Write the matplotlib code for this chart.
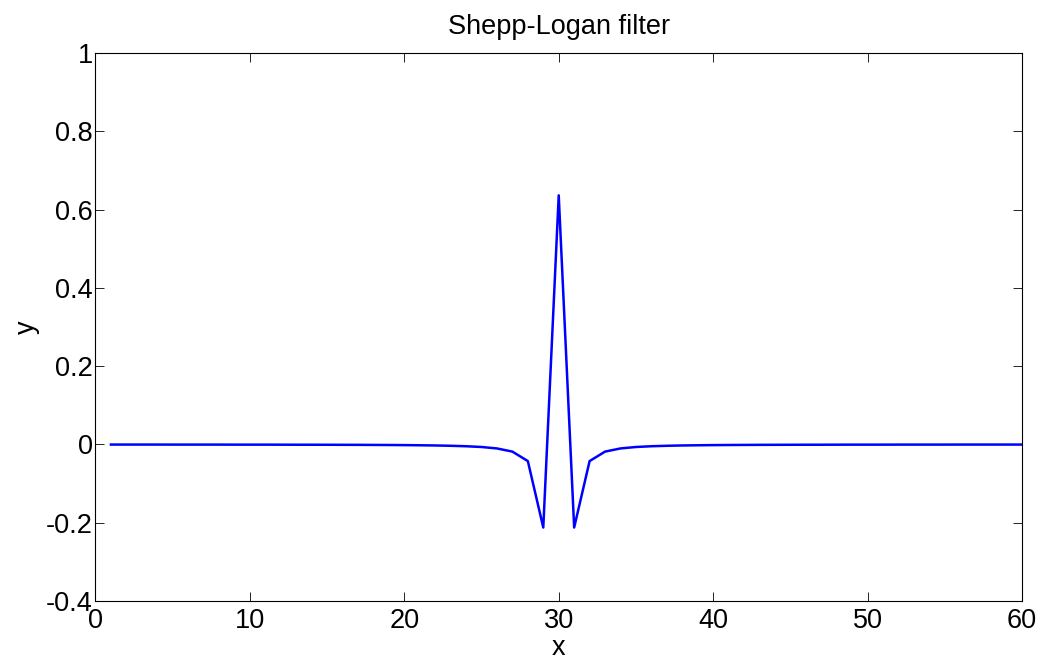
import numpy as np
import matplotlib.pyplot as plt
from matplotlib.ticker import FormatStrFormatter

plt.rcParams['font.family'] = ['Liberation Sans', 'DejaVu Sans']

# sample index and filter response
x = np.arange(1, 61)
y_left = [-0.0002, -0.0002, -0.0002, -0.0002, -0.0003, -0.0003, -0.0003, -0.0003,
          -0.0004, -0.0004, -0.0004, -0.0005, -0.0006, -0.0006, -0.0007, -0.0008,
          -0.0009, -0.0011, -0.0013, -0.0016, -0.0020, -0.0025, -0.0033, -0.0045,
          -0.0064, -0.0101, -0.0182, -0.0424, -0.2122]
y_peak = [0.6366]
y_right = y_left[::-1] + [-0.0002]
y = np.array(y_left + y_peak + y_right)

xticks = [0, 10, 20, 30, 40, 50, 60]
yticks = [-0.4, -0.2, 0, 0.2, 0.4, 0.6, 0.8, 1]

fig = plt.figure(figsize=(10.46, 6.56), dpi=100)
ax = fig.add_axes([0.0913, 0.0838, 0.8857, 0.8352])
ax.plot(x, y, color=(0, 0, 1), lw=1.8)

ax.set_xlim(0, 60)
ax.set_ylim(-0.4, 1)
ax.set_xticks(xticks)
ax.set_yticks(yticks)
ax.yaxis.set_major_formatter(FormatStrFormatter('%g'))
ax.tick_params(direction='in', length=6.5, width=0.6, top=True, right=True,
               labelsize=19.5)
ax.tick_params(axis='x', pad=5)
ax.tick_params(axis='y', pad=2)
for s in ax.spines.values():
    s.set_linewidth(0.8)

ax.set_title('Shepp-Logan filter', fontsize=19.5, pad=14)
ax.set_xlabel('x', fontsize=19.5, labelpad=1)
ax.set_ylabel('y', fontsize=19.5, labelpad=4)

fig.savefig('out.png', dpi=100)
